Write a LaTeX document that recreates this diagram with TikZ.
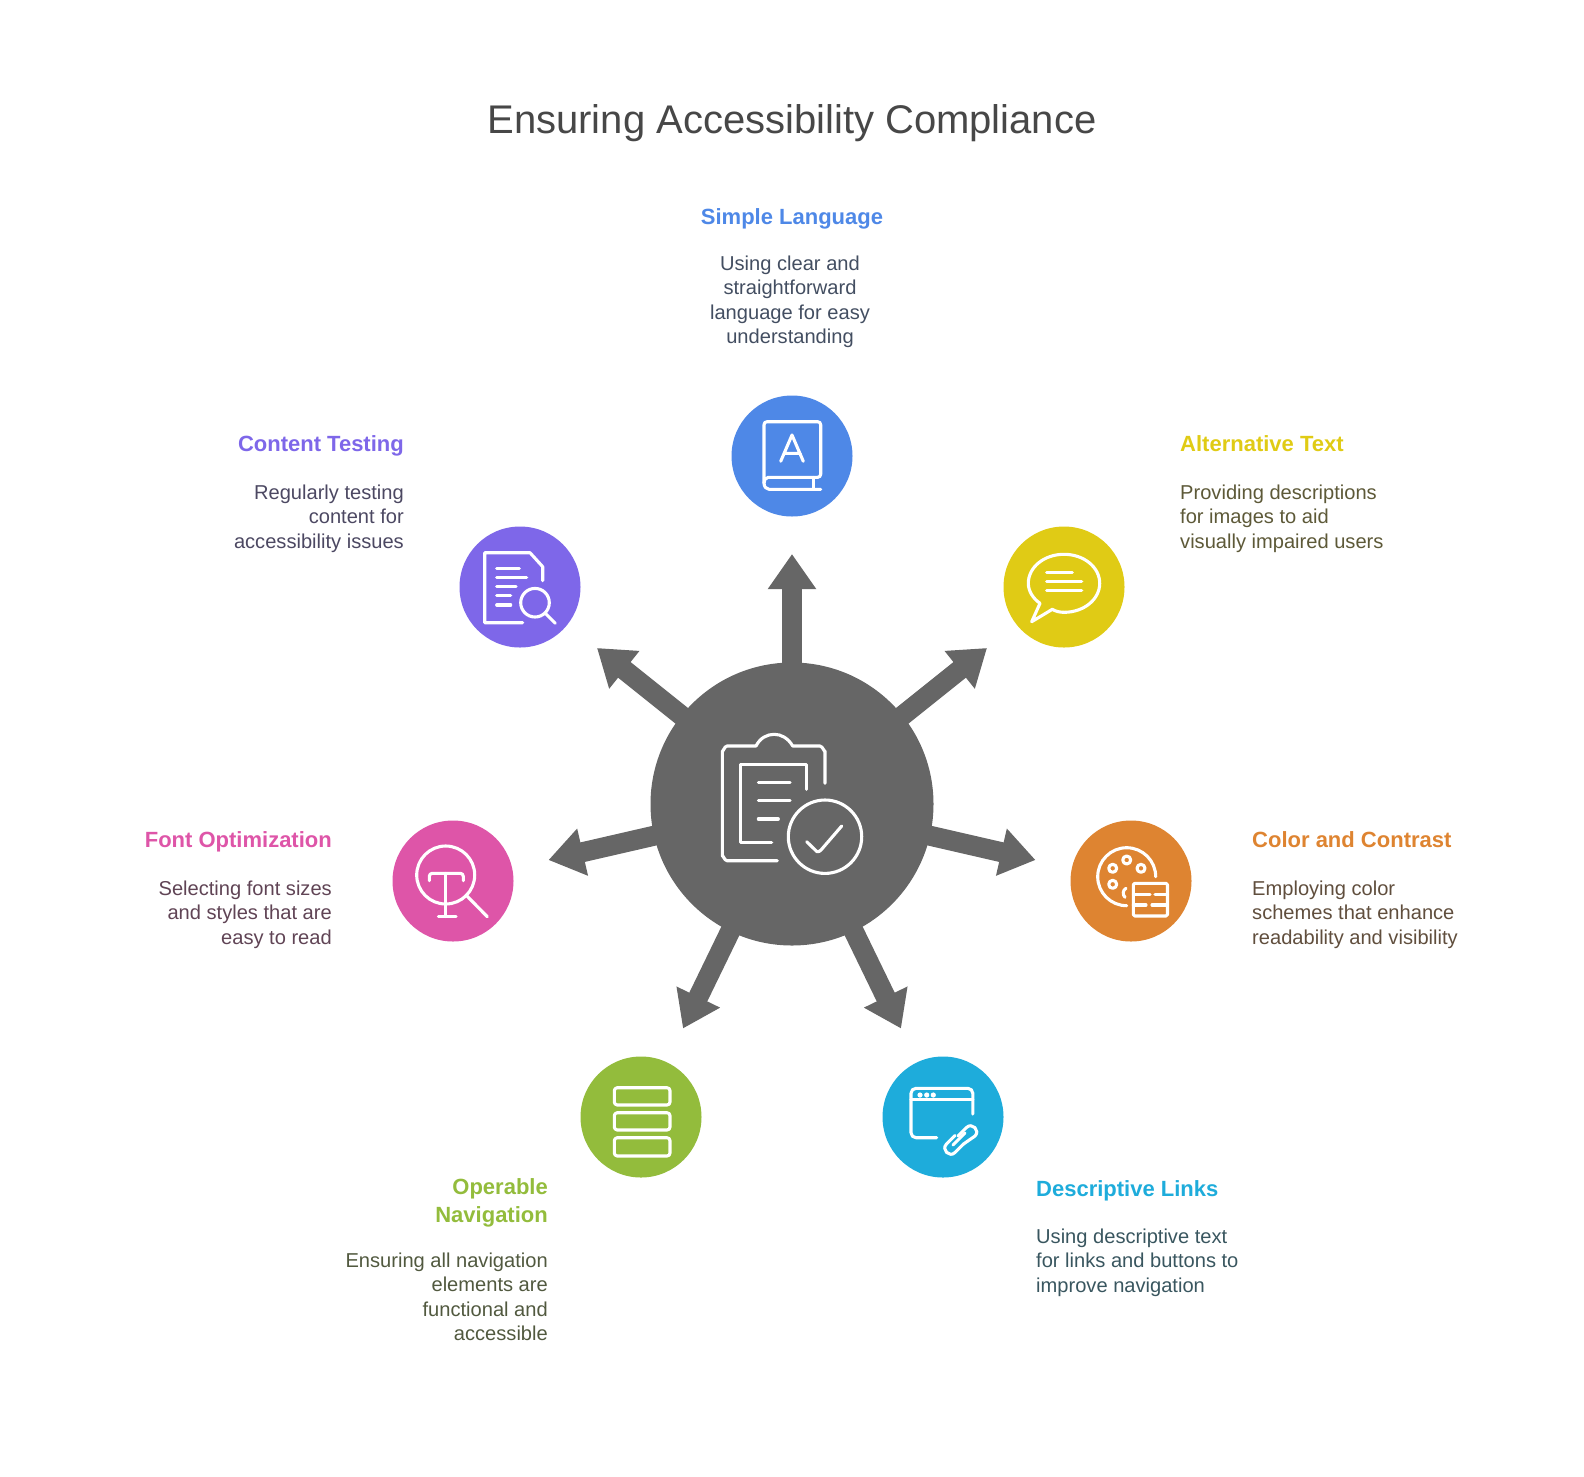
\documentclass[tikz,border=0pt]{standalone}
\usepackage{fontspec}
\setmainfont{Liberation Sans}
\usetikzlibrary{arrows.meta}

\definecolor{hubgray}{HTML}{666666}
\definecolor{textgray}{HTML}{404040}
\definecolor{bluec}{HTML}{4E88E7}
\definecolor{yellowc}{HTML}{E0CB15}
\definecolor{orangec}{HTML}{DE8431}
\definecolor{cyanc}{HTML}{1EACDB}
\definecolor{greenc}{HTML}{93BC3C}
\definecolor{pinkc}{HTML}{DE55A8}
\definecolor{purplec}{HTML}{7E67E9}

\tikzset{
  spoke/.style={line width=20pt, hubgray, -{Triangle[width=46pt,length=35pt]}},
  icon/.style={white, line width=3.1pt, line cap=round, line join=round},
  heading/.style={font=\fontsize{22}{28}\selectfont\bfseries, inner sep=0pt},
  body/.style={font=\fontsize{20.1}{24.2}\selectfont, inner sep=0pt},
}

\begin{document}
\begin{tikzpicture}[x=1pt,y=-1pt]
  \useasboundingbox (0,0) rectangle (1584,1476);
  \node[font=\fontsize{40}{44}\selectfont, text=black!72] (title) at (792,123.5) {Ensuring Accessibility Compliance};

  % hub and spokes
  \node[circle, fill=hubgray, minimum size=283pt, inner sep=0pt] (hub) at (792,804) {};
  \foreach \name/\x/\y in {tipa/792/554,tipb/987/648,tipc/1035.5/860,tipd/901/1028.5,tipe/683/1028.5,tipf/548.5/860,tipg/597/648}{
    \coordinate (\name) at (\x,\y);
    \draw[spoke] (hub.center) -- (\name);
  }

  % coloured discs
  \foreach \name/\col/\x/\y in {simple/bluec/792/456,alt/yellowc/1064/587,color/orangec/1131/881,links/cyanc/943/1117,nav/greenc/641/1117,fontopt/pinkc/453/881,testing/purplec/520/587}{
    \node[circle, fill=\col, minimum size=121pt, inner sep=0pt] (\name) at (\x,\y) {};
  }

  % hub icon
  \draw[icon] (825,783.3) -- (825,751) to[out=-90,in=0] (820,746) -- (792.7,746) .. controls (788,738) and (781,734.3) .. (774.3,734.3) .. controls (767,734.3) and (760,738) .. (756,746) -- (727,746) to[out=180,in=-90] (722.3,751) -- (722.3,856) to[out=90,in=180] (727,860.7) -- (777.3,860.7);
  \draw[icon] (806.7,789.3) -- (806.7,764.7) -- (740.7,764.7) -- (740.7,842.7) -- (771.7,842.7);
  \draw[icon] (758.3,782.7) -- (790,782.7) (758.3,800.7) -- (790,800.7) (758.3,819) -- (778.3,819);
  \draw[icon] (825,836.7) circle[radius=36.7pt];
  \draw[icon] (806.7,841.7) -- (817,851.7) to[out=0,in=-130] (821,850) -- (841.7,826);

  % book
  \draw[icon, rounded corners=3pt] (768.3,477.3) -- (820.7,477.3) -- (820.7,421.7) -- (764,421.7) -- (764,483);
  \draw[icon] (768.3,477.3) .. controls (765.5,477.3) and (764,480) .. (764,483) .. controls (764,486.5) and (766,489.3) .. (769,489.3) -- (820.7,489.3);
  \draw[icon] (813.3,477.3) -- (813.3,489.3);
  \draw[icon] (780.7,461.3) -- (792,435) -- (803.3,461.3) (783.8,453.3) -- (800.2,453.3);

  % speech bubble
  \draw[icon] (1052.3,609.3) .. controls (1056,611.5) and (1060,612.3) .. (1064,612.3) .. controls (1084,612.3) and (1099.7,599.3) .. (1099.7,583.3) .. controls (1099.7,567.3) and (1084,554.3) .. (1064,554.3) .. controls (1044,554.3) and (1028.3,567.3) .. (1028.3,583.3) .. controls (1028.3,591) and (1033,598.5) .. (1040,603.3) -- (1031.7,621.7) -- cycle;
  \draw[icon] (1046.7,572.7) -- (1072.3,572.7) (1046.7,581.7) -- (1081.7,581.7) (1046.7,590.7) -- (1081.7,590.7);

  % palette
  \draw[icon] (1126.7,905.7) .. controls (1110.7,905.7) and (1097.7,892.7) .. (1097.7,876.7) .. controls (1097.7,860.7) and (1110.7,847.7) .. (1126.7,847.7) .. controls (1142.7,847.7) and (1155.7,860.7) .. (1155.7,876.7);
  \foreach \x/\y in {1112.7/868.3,1126.7/860,1141/868.3,1112.7/884.3}{
    \draw[icon] (\x,\y) circle[radius=4pt];
  }
  \draw[icon] (1126,888.3) .. controls (1122.5,890) and (1122.5,895) .. (1125,897.3);
  \draw[icon, rounded corners=1.5pt] (1133.3,883.3) rectangle (1167.5,916);
  \draw[icon] (1133.3,894.5) -- (1150,894.5) (1155,894.5) -- (1167.5,894.5) (1133.3,905) -- (1146,905) (1152,905) -- (1167.5,905);

  % window with link
  \draw[icon, rounded corners=5pt] (972.8,1114) -- (972.8,1088.3) -- (911,1088.3) -- (911,1137.7) -- (936.7,1137.7);
  \draw[icon] (911,1099.3) -- (972.8,1099.3);
  \foreach \x in {920,926.7,933.3}{
    \fill[white] (\x,1095) circle[radius=2.6pt];
  }
  \draw[icon] (963.5,1144) -- (955,1152.5) .. controls (949.5,1158) and (941,1149.5) .. (946.5,1144) -- (955,1135.5);
  \draw[icon] (953,1145) -- (961.5,1136.5) -- (965,1133);
  \draw[icon] (958,1136) -- (966.5,1127.5) .. controls (972,1122) and (980.5,1130.5) .. (975,1136) -- (963.5,1144);

  % stack
  \foreach \ya/\yb in {1087.7/1105,1112.7/1130,1137.7/1156}{
    \draw[icon, rounded corners=3pt] (614.3,\ya) rectangle (670,\yb);
  }

  % font lens
  \draw[icon] (445.7,875) circle[radius=29pt];
  \draw[icon, rounded corners=3pt] (429.3,880.7) -- (429.3,873.3) -- (463.3,873.3) -- (463.3,880.7);
  \draw[icon] (445.7,873.3) -- (445.7,916.5) (438.3,916.5) -- (456,916.5);
  \draw[icon] (466,895) -- (487.3,916.7);

  % document with lens
  \draw[icon] (522.7,622.7) -- (484.7,622.7) -- (484.7,552.7) -- (530,552.7) -- (542.7,566.7) -- (542.7,580.7);
  \draw[icon] (496.7,568.3) -- (519.3,568.3) (496.7,577.7) -- (526.7,577.7) (496.7,586.7) -- (516,586.7) (496.7,595.7) -- (510.7,595.7) (496.7,605) -- (510.7,605);
  \draw[icon] (535,602.7) circle[radius=14.3pt];
  \draw[icon] (546,614) -- (555.3,623.3);

  % headings
  \node[heading, text=bluec, anchor=base] (simplehead) at (792,224) {Simple Language};
  \node[heading, text=yellowc, anchor=base west] (althead) at (1180,451.7) {Alternative Text};
  \node[heading, text=orangec, anchor=base west] (colorhead) at (1252,847.5) {Color and Contrast};
  \node[heading, text=cyanc, anchor=base west] (linkshead) at (1036,1196) {Descriptive Links};
  \node[heading, text=greenc, anchor=north east, align=right] (navhead) at (548,1178) {Operable\\Navigation};
  \node[heading, text=pinkc, anchor=base east] (fonthead) at (332,847.5) {Font Optimization};
  \node[heading, text=purplec, anchor=base east] (testhead) at (404,451.7) {Content Testing};

  % descriptions
  \node[body, text=bluec!20!textgray, anchor=north, align=center] (simpletext) at (790,256) {Using clear and\\straightforward\\language for easy\\understanding};
  \node[body, text=yellowc!18!textgray, anchor=north west, align=left] (alttext) at (1180,485) {Providing descriptions\\for images to aid\\visually impaired users};
  \node[body, text=orangec!20!textgray, anchor=north west, align=left] (colortext) at (1252,881) {Employing color\\schemes that enhance\\readability and visibility};
  \node[body, text=cyanc!20!textgray, anchor=north west, align=left] (linkstext) at (1036,1229) {Using descriptive text\\for links and buttons to\\improve navigation};
  \node[body, text=greenc!20!textgray, anchor=north east, align=right] (navtext) at (548,1253) {Ensuring all navigation\\elements are\\functional and\\accessible};
  \node[body, text=pinkc!20!textgray, anchor=north east, align=right] (fonttext) at (332,881) {Selecting font sizes\\and styles that are\\easy to read};
  \node[body, text=purplec!20!textgray, anchor=north east, align=right] (testtext) at (404,485) {Regularly testing\\content for\\accessibility issues};
\end{tikzpicture}
\end{document}
